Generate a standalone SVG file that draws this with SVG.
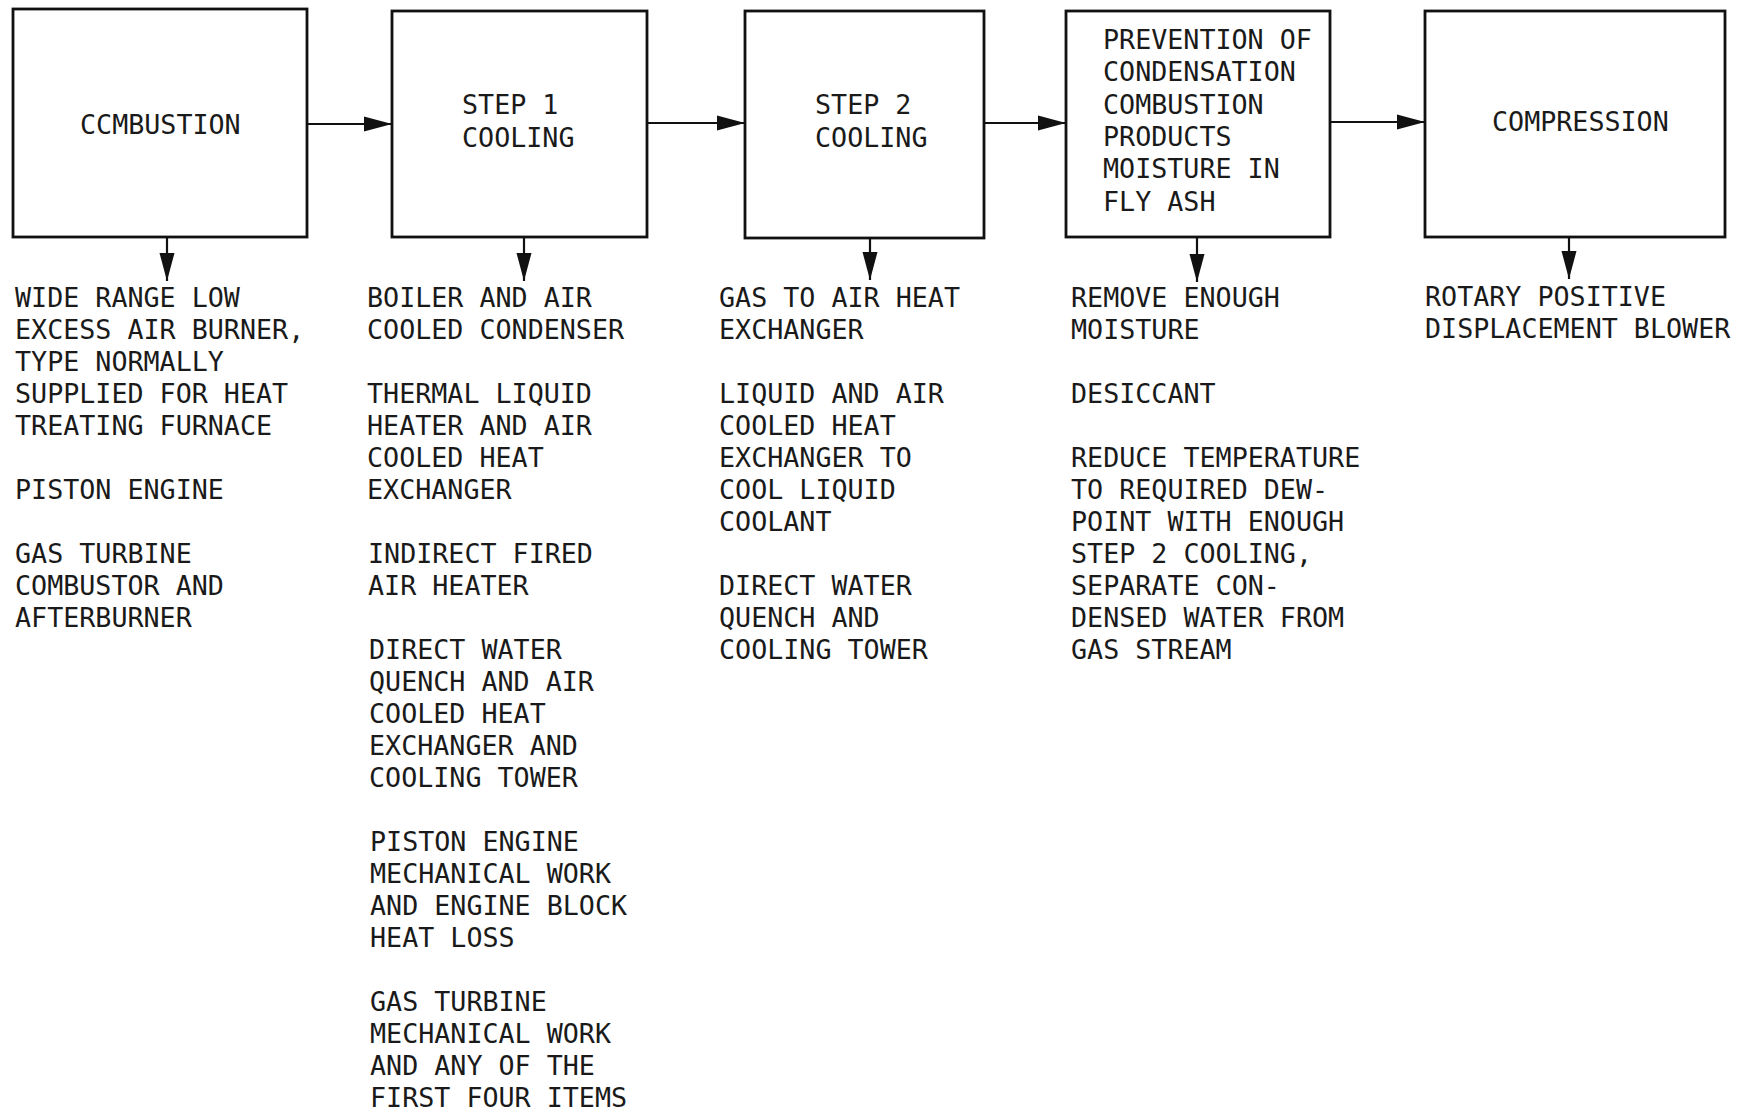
<svg xmlns="http://www.w3.org/2000/svg" width="1748" height="1110" viewBox="0 0 1748 1110">
<style>
.box{fill:#fff;stroke:#111;stroke-width:2.8}
.t{font-family:"DejaVu Sans Mono","Liberation Mono",monospace;font-size:26.7px;fill:#1a1a1a}
.c{stroke:#111;stroke-width:2.2;fill:none}
</style>
<defs>
<marker id="ah" markerUnits="userSpaceOnUse" markerWidth="28" markerHeight="16" refX="28" refY="8" orient="auto">
<path d="M0,0.5 L28,8 L0,15.5 z" fill="#111"/>
</marker>
</defs>
<rect width="1748" height="1110" fill="#fff"/>
<g id="connectors">
<line class="c" x1="307" y1="124" x2="392" y2="124" marker-end="url(#ah)"/>
<line class="c" x1="647" y1="123" x2="745" y2="123" marker-end="url(#ah)"/>
<line class="c" x1="984" y1="123" x2="1066" y2="123" marker-end="url(#ah)"/>
<line class="c" x1="1330" y1="122" x2="1425" y2="122" marker-end="url(#ah)"/>
<line class="c" x1="167" y1="237" x2="167" y2="281" marker-end="url(#ah)"/>
<line class="c" x1="524" y1="237" x2="524" y2="281" marker-end="url(#ah)"/>
<line class="c" x1="870" y1="238" x2="870" y2="280" marker-end="url(#ah)"/>
<line class="c" x1="1197" y1="237" x2="1197" y2="282" marker-end="url(#ah)"/>
<line class="c" x1="1569" y1="237" x2="1569" y2="279" marker-end="url(#ah)"/>
</g>
<g id="combustion">
<rect class="box" x="13" y="9" width="294" height="228"/>
<text class="t" x="80" y="134">CCMBUSTION</text>
</g>
<g id="step1">
<rect class="box" x="392" y="11" width="255" height="226"/>
<text class="t" x="462" y="114">STEP 1</text>
<text class="t" x="462" y="147">COOLING</text>
</g>
<g id="step2">
<rect class="box" x="745" y="11" width="239" height="227"/>
<text class="t" x="815" y="114">STEP 2</text>
<text class="t" x="815" y="147">COOLING</text>
</g>
<g id="prevention">
<rect class="box" x="1066" y="11" width="264" height="226"/>
<text class="t" x="1103" y="49">PREVENTION OF</text>
<text class="t" x="1103" y="81">CONDENSATION</text>
<text class="t" x="1103" y="114">COMBUSTION</text>
<text class="t" x="1103" y="146">PRODUCTS</text>
<text class="t" x="1103" y="178">MOISTURE IN</text>
<text class="t" x="1103" y="211">FLY ASH</text>
</g>
<g id="compression">
<rect class="box" x="1425" y="11" width="300" height="226"/>
<text class="t" x="1492" y="131">COMPRESSION</text>
</g>
<g id="col1">
<text class="t" x="15" y="307">WIDE RANGE LOW</text>
<text class="t" x="15" y="339">EXCESS AIR BURNER,</text>
<text class="t" x="15" y="371">TYPE NORMALLY</text>
<text class="t" x="15" y="403">SUPPLIED FOR HEAT</text>
<text class="t" x="15" y="435">TREATING FURNACE</text>
<text class="t" x="15" y="499">PISTON ENGINE</text>
<text class="t" x="15" y="563">GAS TURBINE</text>
<text class="t" x="15" y="595">COMBUSTOR AND</text>
<text class="t" x="15" y="627">AFTERBURNER</text>
</g>
<g id="col2">
<text class="t" x="367" y="307">BOILER AND AIR</text>
<text class="t" x="367" y="339">COOLED CONDENSER</text>
<text class="t" x="367" y="403">THERMAL LIQUID</text>
<text class="t" x="367" y="435">HEATER AND AIR</text>
<text class="t" x="367" y="467">COOLED HEAT</text>
<text class="t" x="367" y="499">EXCHANGER</text>
<text class="t" x="368" y="563">INDIRECT FIRED</text>
<text class="t" x="368" y="595">AIR HEATER</text>
<text class="t" x="369" y="659">DIRECT WATER</text>
<text class="t" x="369" y="691">QUENCH AND AIR</text>
<text class="t" x="369" y="723">COOLED HEAT</text>
<text class="t" x="369" y="755">EXCHANGER AND</text>
<text class="t" x="369" y="787">COOLING TOWER</text>
<text class="t" x="370" y="851">PISTON ENGINE</text>
<text class="t" x="370" y="883">MECHANICAL WORK</text>
<text class="t" x="370" y="915">AND ENGINE BLOCK</text>
<text class="t" x="370" y="947">HEAT LOSS</text>
<text class="t" x="370" y="1011">GAS TURBINE</text>
<text class="t" x="370" y="1043">MECHANICAL WORK</text>
<text class="t" x="370" y="1075">AND ANY OF THE</text>
<text class="t" x="370" y="1107">FIRST FOUR ITEMS</text>
</g>
<g id="col3">
<text class="t" x="719" y="307">GAS TO AIR HEAT</text>
<text class="t" x="719" y="339">EXCHANGER</text>
<text class="t" x="719" y="403">LIQUID AND AIR</text>
<text class="t" x="719" y="435">COOLED HEAT</text>
<text class="t" x="719" y="467">EXCHANGER TO</text>
<text class="t" x="719" y="499">COOL LIQUID</text>
<text class="t" x="719" y="531">COOLANT</text>
<text class="t" x="719" y="595">DIRECT WATER</text>
<text class="t" x="719" y="627">QUENCH AND</text>
<text class="t" x="719" y="659">COOLING TOWER</text>
</g>
<g id="col4">
<text class="t" x="1071" y="307">REMOVE ENOUGH</text>
<text class="t" x="1071" y="339">MOISTURE</text>
<text class="t" x="1071" y="403">DESICCANT</text>
<text class="t" x="1071" y="467">REDUCE TEMPERATURE</text>
<text class="t" x="1071" y="499">TO REQUIRED DEW-</text>
<text class="t" x="1071" y="531">POINT WITH ENOUGH</text>
<text class="t" x="1071" y="563">STEP 2 COOLING,</text>
<text class="t" x="1071" y="595">SEPARATE CON-</text>
<text class="t" x="1071" y="627">DENSED WATER FROM</text>
<text class="t" x="1071" y="659">GAS STREAM</text>
</g>
<g id="col5">
<text class="t" x="1425" y="306">ROTARY POSITIVE</text>
<text class="t" x="1425" y="338">DISPLACEMENT BLOWER</text>
</g>
</svg>
